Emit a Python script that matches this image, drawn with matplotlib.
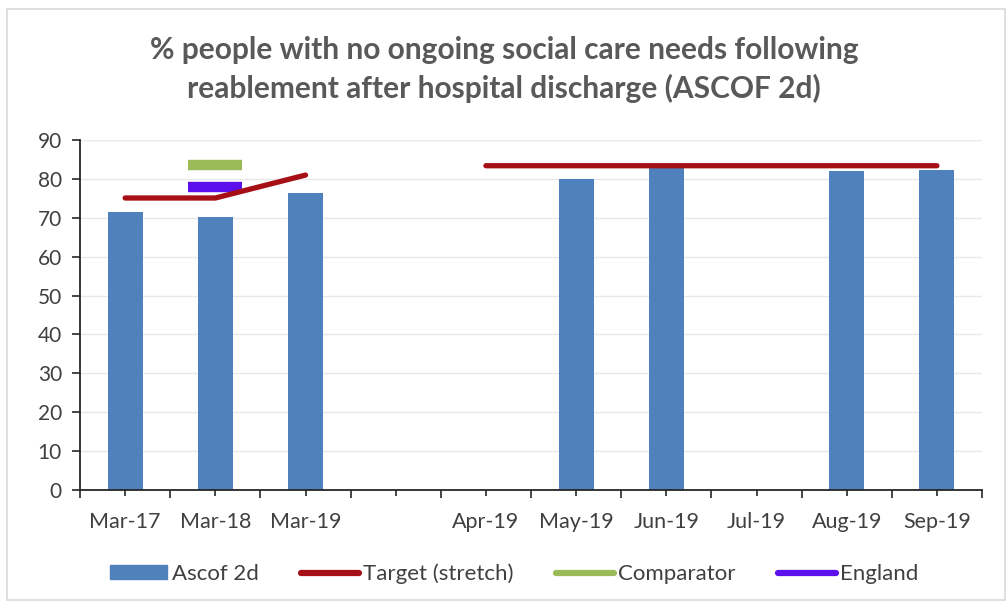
"""ASCOF 2d reablement chart: bars per period with target, comparator and England markers."""

import matplotlib

matplotlib.use("Agg")
import matplotlib.pyplot as plt
import numpy as np
from matplotlib.lines import Line2D
from matplotlib.patches import Patch, Rectangle

plt.rcParams["font.family"] = ["Lato", "DejaVu Sans"]

# ---- data ------------------------------------------------------------------
periods = ["Mar-17", "Mar-18", "Mar-19", "", "Apr-19", "May-19",
           "Jun-19", "Jul-19", "Aug-19", "Sep-19"]
ascof_2d = [71.5, 70.3, 76.5, np.nan, np.nan, 80.1, 82.7, np.nan, 82.1, 82.4]
target_stretch = [75.1, 75.1, 81.0, np.nan, 83.4, 83.4, 83.4, 83.4, 83.4, 83.4]
comparator = [np.nan, 83.7, np.nan, np.nan, np.nan, np.nan, np.nan, np.nan, np.nan, np.nan]
england = [np.nan, 78.0, np.nan, np.nan, np.nan, np.nan, np.nan, np.nan, np.nan, np.nan]

BAR = "#4F81BD"
TARGET = "#A50F15"
COMP = "#9BBB59"
ENG = "#5B0FEB"
TEXT = "#404040"

fig = plt.figure(figsize=(10.08, 6.09), dpi=100)
fig.patches.append(Rectangle((0.007, 0.015), 0.99, 0.97, transform=fig.transFigure,
                             fill=False, edgecolor="#D9D9D9", linewidth=1.2))
ax = fig.add_axes([0.0794, 0.1954, 0.8948, 0.5746])

x = np.arange(len(periods))
ax.bar(x, ascof_2d, width=0.39, color=BAR, zorder=2)
ax.plot(x, target_stretch, color=TARGET, linewidth=3.8, solid_capstyle="round",
        solid_joinstyle="round", zorder=4)
half = 0.3
for vals, col in ((comparator, COMP), (england, ENG)):
    v = np.asarray(vals)
    m = ~np.isnan(v)
    ax.hlines(v[m], x[m] - half, x[m] + half, color=col, linewidth=7.5, zorder=3)

ax.set_xlim(-0.5, len(periods) - 0.5)
ax.set_ylim(0, 90)
ax.set_yticks(np.arange(0, 91, 10))
ax.set_xticks(np.arange(len(periods) + 1) - 0.5)
ax.set_xticklabels([])
ax.set_xticks(x, minor=True)
ax.set_xticklabels(periods, minor=True)
ax.tick_params(axis="x", which="major", length=6, width=1.2, color="#262626")
ax.tick_params(axis="x", which="minor", length=4, width=1.2, color="#262626",
               labelsize=15.5, labelcolor=TEXT, pad=12)
ax.tick_params(axis="y", length=6, width=1.2, color="#262626", labelsize=15,
               labelcolor=TEXT, pad=7)
ax.grid(axis="y", color="#E8E8E8", linewidth=1, zorder=0)
ax.set_axisbelow(True)
for side in ("top", "right"):
    ax.spines[side].set_visible(False)
for side in ("left", "bottom"):
    ax.spines[side].set_color("#262626")
    ax.spines[side].set_linewidth(1.3)

fig.text(0.5, 0.918, "% people with no ongoing social care needs following",
         ha="center", va="center", fontsize=21.5, fontweight="bold", color="#595959")
fig.text(0.5, 0.855, "reablement after hospital discharge (ASCOF 2d)",
         ha="center", va="center", fontsize=21.5, fontweight="bold", color="#595959")

handles = [
    Patch(color=BAR, label="Ascof 2d"),
    Line2D([], [], color=TARGET, linewidth=4.5, solid_capstyle="round", label="Target (stretch)"),
    Line2D([], [], color=COMP, linewidth=4.5, solid_capstyle="round", label="Comparator"),
    Line2D([], [], color=ENG, linewidth=4.5, solid_capstyle="round", label="England"),
]
fig.legend(handles=handles, loc="center", bbox_to_anchor=(0.51, 0.058), ncol=4,
           frameon=False, fontsize=16, handlelength=2.6, handletextpad=0.2,
           columnspacing=1.9, labelcolor=TEXT, handleheight=0.6)

fig.savefig("out.png", dpi=100)
